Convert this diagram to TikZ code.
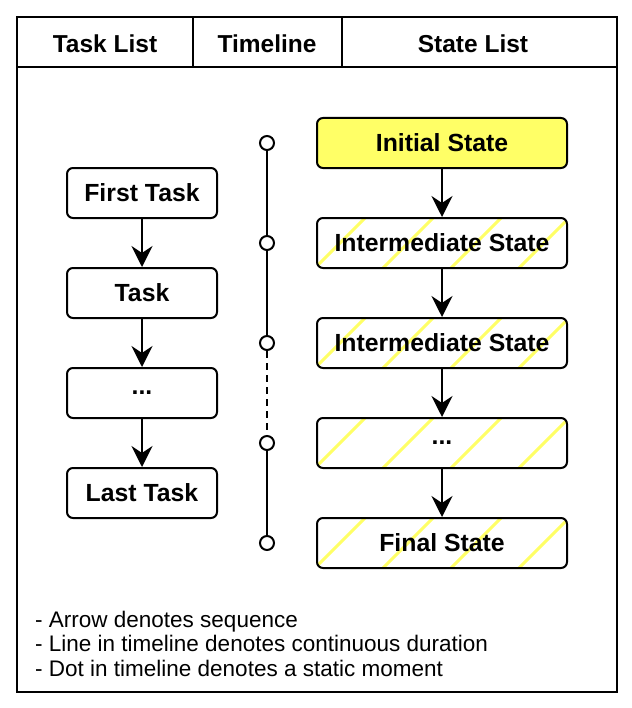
\documentclass[tikz,border=0pt]{standalone}
\usepackage{fontspec}
\setmainfont{Liberation Sans}
\usetikzlibrary{arrows.meta,calc}
\definecolor{hlyellow}{RGB}{255,255,102}
\begin{document}
\begin{tikzpicture}[x=1bp,y=-1bp,
  box/.style={draw, line width=2bp, rounded corners=6bp, minimum width=150bp, minimum height=50bp,
    font=\fontsize{24.8bp}{29bp}\selectfont\bfseries, inner sep=0pt, fill=white},
  statebox/.style={box, minimum width=250bp},
  hatched/.style={path picture={
    \foreach \k in {0,...,3}
      \draw[hlyellow, line width=3bp]
        ($(path picture bounding box.north west)+(48+68*\k+6,-6)$) -- ++(-62,62);}},
  headtext/.style={font=\fontsize{24.5bp}{29bp}\selectfont\bfseries, inner sep=0pt},
  notetext/.style={font=\fontsize{22.5bp}{26bp}\selectfont, inner sep=0pt, anchor=base west},
  seq/.style={line width=2bp, -{Stealth[length=21bp,width=21bp,inset=7bp]}},
  tdot/.style={circle, draw, fill=white, line width=2bp, minimum size=14bp, inner sep=0pt},
  tline/.style={line width=2bp},
  frame/.style={line width=2bp}]
\useasboundingbox (0,0) rectangle (632,708);

% frame and header
\draw[frame] (17,17) rectangle (617,692);
\draw[frame] (17,67) -- (617,67);
\draw[frame] (193,17) -- (193,67);
\draw[frame] (342,17) -- (342,67);
\node[headtext] (h1) at (105,44) {Task List};
\node[headtext] (h2) at (267,44) {Timeline};
\node[headtext] (h3) at (473,44) {State List};

% tasks
\node[box] (t1) at (142,193) {First Task};
\node[box] (t2) at (142,293) {Task};
\node[box] (t3) at (142,393) {...};
\node[box] (t4) at (142,493) {Last Task};
\draw[seq] (t1) -- (t2);
\draw[seq] (t2) -- (t3);
\draw[seq] (t3) -- (t4);

% timeline
\node[tdot] (d1) at (267,143) {};
\node[tdot] (d2) at (267,243) {};
\node[tdot] (d3) at (267,343) {};
\node[tdot] (d4) at (267,443) {};
\node[tdot] (d5) at (267,543) {};
\draw[tline] (d1) -- (d2);
\draw[tline] (d2) -- (d3);
\draw[tline, dash pattern=on 7bp off 5bp] (d3) -- (d4);
\draw[tline] (d4) -- (d5);

% states
\node[statebox, fill=hlyellow] (s1) at (442,143) {Initial State};
\node[statebox, hatched] (s2) at (442,243) {Intermediate State};
\node[statebox, hatched] (s3) at (442,343) {Intermediate State};
\node[statebox, hatched] (s4) at (442,443) {...};
\node[statebox, hatched] (s5) at (442,543) {Final State};
\draw[seq] (s1) -- (s2);
\draw[seq] (s2) -- (s3);
\draw[seq] (s3) -- (s4);
\draw[seq] (s4) -- (s5);

% notes
\node[notetext] (n1) at (35,627) {- Arrow denotes sequence};
\node[notetext] (n2) at (35,651.5) {- Line in timeline denotes continuous duration};
\node[notetext] (n3) at (35,676) {- Dot in timeline denotes a static moment};
\end{tikzpicture}
\end{document}
